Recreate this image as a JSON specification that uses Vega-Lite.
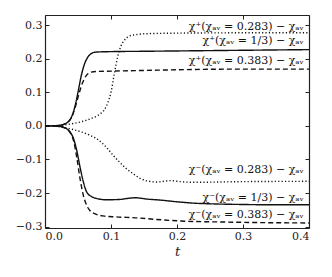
{
  "$schema": "https://vega.github.io/schema/vega-lite/v6.json",
  "autosize": {"type": "none"},
  "padding": {"left": 45, "top": 15, "right": 23, "bottom": 49},
  "width": 264,
  "height": 213,
  "background": "white",
  "config": {
    "view": {"stroke": null},
    "axis": {
      "grid": false,
      "domainColor": "#222",
      "domainWidth": 1.2,
      "tickColor": "#222",
      "tickSize": -4,
      "labelFont": "DejaVu Serif",
      "labelFontSize": 11,
      "labelColor": "#222",
      "titleFont": "DejaVu Serif",
      "titleColor": "#222"
    }
  },
  "datasets": {
    "curves": [
      {"s": "p13", "t": 0.0, "v": 0.0}, {"s": "p13", "t": 0.01, "v": 0.0}, {"s": "p13", "t": 0.02, "v": 0.001}, {"s": "p13", "t": 0.03, "v": 0.006}, {"s": "p13", "t": 0.035, "v": 0.012}, {"s": "p13", "t": 0.04, "v": 0.026}, {"s": "p13", "t": 0.045, "v": 0.055}, {"s": "p13", "t": 0.05, "v": 0.1}, {"s": "p13", "t": 0.055, "v": 0.15}, {"s": "p13", "t": 0.06, "v": 0.185}, {"s": "p13", "t": 0.065, "v": 0.205}, {"s": "p13", "t": 0.07, "v": 0.215}, {"s": "p13", "t": 0.075, "v": 0.219}, {"s": "p13", "t": 0.08, "v": 0.22}, {"s": "p13", "t": 0.1, "v": 0.221}, {"s": "p13", "t": 0.15, "v": 0.222}, {"s": "p13", "t": 0.2, "v": 0.223}, {"s": "p13", "t": 0.25, "v": 0.224}, {"s": "p13", "t": 0.3, "v": 0.225}, {"s": "p13", "t": 0.35, "v": 0.226}, {"s": "p13", "t": 0.4, "v": 0.227},
      {"s": "p383", "t": 0.0, "v": 0.0}, {"s": "p383", "t": 0.01, "v": 0.0}, {"s": "p383", "t": 0.02, "v": 0.001}, {"s": "p383", "t": 0.03, "v": 0.006}, {"s": "p383", "t": 0.035, "v": 0.011}, {"s": "p383", "t": 0.04, "v": 0.024}, {"s": "p383", "t": 0.045, "v": 0.05}, {"s": "p383", "t": 0.05, "v": 0.085}, {"s": "p383", "t": 0.055, "v": 0.118}, {"s": "p383", "t": 0.06, "v": 0.142}, {"s": "p383", "t": 0.065, "v": 0.155}, {"s": "p383", "t": 0.07, "v": 0.16}, {"s": "p383", "t": 0.08, "v": 0.162}, {"s": "p383", "t": 0.1, "v": 0.163}, {"s": "p383", "t": 0.15, "v": 0.165}, {"s": "p383", "t": 0.2, "v": 0.167}, {"s": "p383", "t": 0.3, "v": 0.169}, {"s": "p383", "t": 0.4, "v": 0.169},
      {"s": "p283", "t": 0.0, "v": 0.0}, {"s": "p283", "t": 0.01, "v": 0.0}, {"s": "p283", "t": 0.02, "v": 0.001}, {"s": "p283", "t": 0.03, "v": 0.003}, {"s": "p283", "t": 0.04, "v": 0.006}, {"s": "p283", "t": 0.05, "v": 0.01}, {"s": "p283", "t": 0.06, "v": 0.015}, {"s": "p283", "t": 0.07, "v": 0.022}, {"s": "p283", "t": 0.08, "v": 0.031}, {"s": "p283", "t": 0.085, "v": 0.038}, {"s": "p283", "t": 0.09, "v": 0.048}, {"s": "p283", "t": 0.095, "v": 0.068}, {"s": "p283", "t": 0.1, "v": 0.1}, {"s": "p283", "t": 0.105, "v": 0.155}, {"s": "p283", "t": 0.11, "v": 0.205}, {"s": "p283", "t": 0.115, "v": 0.237}, {"s": "p283", "t": 0.12, "v": 0.254}, {"s": "p283", "t": 0.125, "v": 0.264}, {"s": "p283", "t": 0.13, "v": 0.269}, {"s": "p283", "t": 0.14, "v": 0.272}, {"s": "p283", "t": 0.15, "v": 0.274}, {"s": "p283", "t": 0.2, "v": 0.276}, {"s": "p283", "t": 0.3, "v": 0.277}, {"s": "p283", "t": 0.4, "v": 0.277},
      {"s": "m13", "t": 0.0, "v": 0.0}, {"s": "m13", "t": 0.01, "v": 0.0}, {"s": "m13", "t": 0.02, "v": -0.001}, {"s": "m13", "t": 0.028, "v": -0.004}, {"s": "m13", "t": 0.033, "v": -0.009}, {"s": "m13", "t": 0.038, "v": -0.018}, {"s": "m13", "t": 0.043, "v": -0.037}, {"s": "m13", "t": 0.048, "v": -0.072}, {"s": "m13", "t": 0.053, "v": -0.122}, {"s": "m13", "t": 0.058, "v": -0.166}, {"s": "m13", "t": 0.063, "v": -0.196}, {"s": "m13", "t": 0.071, "v": -0.211}, {"s": "m13", "t": 0.078, "v": -0.216}, {"s": "m13", "t": 0.093, "v": -0.22}, {"s": "m13", "t": 0.113, "v": -0.219}, {"s": "m13", "t": 0.125, "v": -0.216}, {"s": "m13", "t": 0.137, "v": -0.214}, {"s": "m13", "t": 0.155, "v": -0.218}, {"s": "m13", "t": 0.175, "v": -0.221}, {"s": "m13", "t": 0.2, "v": -0.226}, {"s": "m13", "t": 0.225, "v": -0.23}, {"s": "m13", "t": 0.25, "v": -0.232}, {"s": "m13", "t": 0.3, "v": -0.234}, {"s": "m13", "t": 0.35, "v": -0.235}, {"s": "m13", "t": 0.4, "v": -0.235},
      {"s": "m383", "t": 0.0, "v": 0.0}, {"s": "m383", "t": 0.01, "v": 0.0}, {"s": "m383", "t": 0.02, "v": -0.001}, {"s": "m383", "t": 0.028, "v": -0.005}, {"s": "m383", "t": 0.033, "v": -0.01}, {"s": "m383", "t": 0.038, "v": -0.02}, {"s": "m383", "t": 0.043, "v": -0.042}, {"s": "m383", "t": 0.048, "v": -0.092}, {"s": "m383", "t": 0.053, "v": -0.156}, {"s": "m383", "t": 0.058, "v": -0.206}, {"s": "m383", "t": 0.063, "v": -0.236}, {"s": "m383", "t": 0.068, "v": -0.252}, {"s": "m383", "t": 0.076, "v": -0.262}, {"s": "m383", "t": 0.088, "v": -0.268}, {"s": "m383", "t": 0.108, "v": -0.271}, {"s": "m383", "t": 0.14, "v": -0.274}, {"s": "m383", "t": 0.165, "v": -0.278}, {"s": "m383", "t": 0.215, "v": -0.284}, {"s": "m383", "t": 0.265, "v": -0.286}, {"s": "m383", "t": 0.33, "v": -0.288}, {"s": "m383", "t": 0.4, "v": -0.289},
      {"s": "m283", "t": 0.0, "v": 0.0}, {"s": "m283", "t": 0.01, "v": 0.0}, {"s": "m283", "t": 0.02, "v": -0.002}, {"s": "m283", "t": 0.03, "v": -0.005}, {"s": "m283", "t": 0.043, "v": -0.011}, {"s": "m283", "t": 0.055, "v": -0.018}, {"s": "m283", "t": 0.068, "v": -0.028}, {"s": "m283", "t": 0.078, "v": -0.038}, {"s": "m283", "t": 0.086, "v": -0.05}, {"s": "m283", "t": 0.093, "v": -0.064}, {"s": "m283", "t": 0.103, "v": -0.087}, {"s": "m283", "t": 0.113, "v": -0.108}, {"s": "m283", "t": 0.123, "v": -0.127}, {"s": "m283", "t": 0.134, "v": -0.143}, {"s": "m283", "t": 0.144, "v": -0.156}, {"s": "m283", "t": 0.155, "v": -0.164}, {"s": "m283", "t": 0.17, "v": -0.167}, {"s": "m283", "t": 0.19, "v": -0.163}, {"s": "m283", "t": 0.205, "v": -0.166}, {"s": "m283", "t": 0.225, "v": -0.168}, {"s": "m283", "t": 0.3, "v": -0.166}, {"s": "m283", "t": 0.4, "v": -0.165}
    ],
    "labels": [
      {"label": "χ⁺(χₐᵥ = 0.283) − χₐᵥ", "t": 0.392, "v": 0.284},
      {"label": "χ⁺(χₐᵥ = 1/3) − χₐᵥ", "t": 0.392, "v": 0.243},
      {"label": "χ⁺(χₐᵥ = 0.383) − χₐᵥ", "t": 0.392, "v": 0.183},
      {"label": "χ⁻(χₐᵥ = 0.283) − χₐᵥ", "t": 0.392, "v": -0.141},
      {"label": "χ⁻(χₐᵥ = 1/3) − χₐᵥ", "t": 0.392, "v": -0.224},
      {"label": "χ⁻(χₐᵥ = 0.383) − χₐᵥ", "t": 0.392, "v": -0.274}
    ]
  },
  "layer": [
    {
      "data": {"name": "curves"},
      "mark": {"type": "line", "color": "#111", "strokeWidth": 1.4, "interpolate": "monotone"},
      "encoding": {
        "x": {"field": "t", "type": "quantitative", "scale": {"domain": [0, 0.4], "nice": false, "zero": false},
              "axis": {"orient": "bottom", "values": [0, 0.1, 0.2, 0.3, 0.4], "format": ".1f", "title": "t", "titleFontStyle": "italic", "titleFontWeight": "normal", "titleFontSize": 13, "labelPadding": 6, "titlePadding": 4}},
        "y": {"field": "v", "type": "quantitative", "scale": {"domain": [-0.304, 0.33], "nice": false, "zero": false},
              "axis": {"orient": "left", "values": [-0.3, -0.2, -0.1, 0, 0.1, 0.2, 0.3], "format": ".1f", "title": null, "labelPadding": 7}},
        "detail": {"field": "s"},
        "strokeDash": {"field": "s", "type": "nominal", "legend": null,
                       "scale": {"domain": ["p13", "m13", "p383", "m383", "p283", "m283"], "range": [[1, 0], [1, 0], [5, 3], [5, 3], [1.2, 2.2], [1.2, 2.2]]}}
      }
    },
    {
      "data": {"name": "labels"},
      "mark": {"type": "text", "align": "right", "baseline": "alphabetic", "font": "DejaVu Serif", "fontSize": 11, "color": "#111"},
      "encoding": {
        "x": {"field": "t", "type": "quantitative", "axis": {"orient": "top", "values": [0, 0.1, 0.2, 0.3, 0.4], "labels": false, "title": null}},
        "y": {"field": "v", "type": "quantitative", "axis": {"orient": "right", "values": [-0.3, -0.2, -0.1, 0, 0.1, 0.2, 0.3], "labels": false, "title": null}},
        "text": {"field": "label"}
      }
    }
  ],
  "resolve": {"axis": {"x": "independent", "y": "independent"}}
}
